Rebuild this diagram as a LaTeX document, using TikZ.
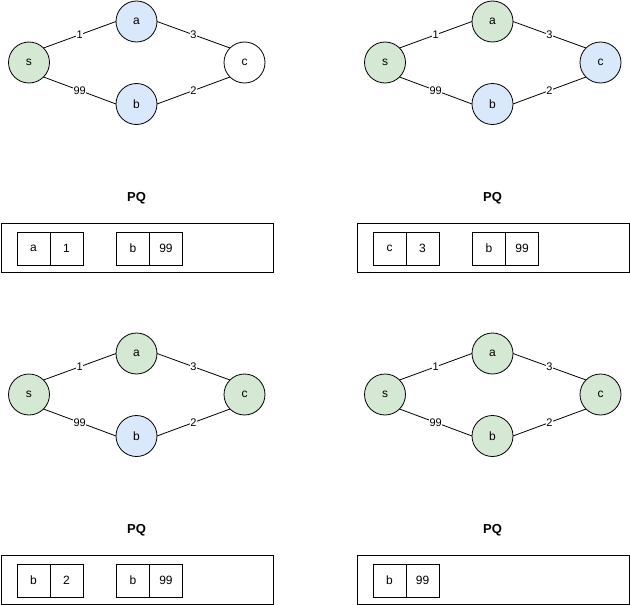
\documentclass[tikz,border=0pt]{standalone}
\usepackage{fontspec}
\setmainfont{Liberation Sans}
\usetikzlibrary{scopes}
\definecolor{visited}{HTML}{D5E8D4}
\definecolor{frontier}{HTML}{DAE8FC}

\tikzset{
  vertex/.style={circle, draw, minimum size=41pt, inner sep=0pt, outer sep=0pt, font=\fontsize{12}{14}\selectfont},
  done/.style={vertex, fill=visited},
  queued/.style={vertex, fill=frontier},
  weight/.style={midway, fill=white, inner sep=0.5pt, font=\fontsize{11}{13}\selectfont},
  cell/.style={draw, minimum size=33pt, inner sep=0pt, outer sep=0pt, font=\fontsize{12}{14}\selectfont},
  pqbox/.style={draw, minimum width=272pt, minimum height=49pt, inner sep=0pt},
  pqtitle/.style={font=\bfseries\fontsize{13}{15}\selectfont}
}

\begin{document}
\begin{tikzpicture}[x=1pt, y=-1pt, line width=0.8pt]
\useasboundingbox (0,0) rectangle (630,605);

% step 1
\node[done] (s1) at (29,62.5) {s};
\node[queued] (a1) at (136.5,21.5) {a};
\node[queued] (b1) at (136.5,104) {b};
\node[vertex] (c1) at (244.5,62.5) {c};
\draw (s1.north east) -- (a1.west) node[weight]{1};
\draw (s1.south east) -- (b1.west) node[weight]{99};
\draw (a1.east) -- (c1.north west) node[weight]{3};
\draw (b1.east) -- (c1.south west) node[weight]{2};
\node[pqtitle] (t1) at (136.5,198) {PQ};
\node[pqbox] (pq1) at (137,247.5) {};
\node[cell] (k11) at (33.5,248.5) {a};
\node[cell] (v11) at (66.5,248.5) {1};
\node[cell] (k12) at (133,248.5) {b};
\node[cell] (v12) at (166,248.5) {99};

% step 2
{ [shift={(356,0)}]
\node[done] (s2) at (29,62.5) {s};
\node[done] (a2) at (136.5,21.5) {a};
\node[queued] (b2) at (136.5,104) {b};
\node[queued] (c2) at (244.5,62.5) {c};
\draw (s2.north east) -- (a2.west) node[weight]{1};
\draw (s2.south east) -- (b2.west) node[weight]{99};
\draw (a2.east) -- (c2.north west) node[weight]{3};
\draw (b2.east) -- (c2.south west) node[weight]{2};
\node[pqtitle] (t2) at (136.5,198) {PQ};
\node[pqbox] (pq2) at (137,247.5) {};
\node[cell] (k21) at (33.5,248.5) {c};
\node[cell] (v21) at (66.5,248.5) {3};
\node[cell] (k22) at (133,248.5) {b};
\node[cell] (v22) at (166,248.5) {99};
}

% step 3
{ [shift={(0,332)}]
\node[done] (s3) at (29,62.5) {s};
\node[done] (a3) at (136.5,21.5) {a};
\node[queued] (b3) at (136.5,104) {b};
\node[done] (c3) at (244.5,62.5) {c};
\draw (s3.north east) -- (a3.west) node[weight]{1};
\draw (s3.south east) -- (b3.west) node[weight]{99};
\draw (a3.east) -- (c3.north west) node[weight]{3};
\draw (b3.east) -- (c3.south west) node[weight]{2};
\node[pqtitle] (t3) at (136.5,198) {PQ};
\node[pqbox] (pq3) at (137,247.5) {};
\node[cell] (k31) at (33.5,248.5) {b};
\node[cell] (v31) at (66.5,248.5) {2};
\node[cell] (k32) at (133,248.5) {b};
\node[cell] (v32) at (166,248.5) {99};
}

% step 4
{ [shift={(356,332)}]
\node[done] (s4) at (29,62.5) {s};
\node[done] (a4) at (136.5,21.5) {a};
\node[done] (b4) at (136.5,104) {b};
\node[done] (c4) at (244.5,62.5) {c};
\draw (s4.north east) -- (a4.west) node[weight]{1};
\draw (s4.south east) -- (b4.west) node[weight]{99};
\draw (a4.east) -- (c4.north west) node[weight]{3};
\draw (b4.east) -- (c4.south west) node[weight]{2};
\node[pqtitle] (t4) at (136.5,198) {PQ};
\node[pqbox] (pq4) at (137,247.5) {};
\node[cell] (k41) at (33.5,248.5) {b};
\node[cell] (v41) at (66.5,248.5) {99};
}
\end{tikzpicture}
\end{document}
